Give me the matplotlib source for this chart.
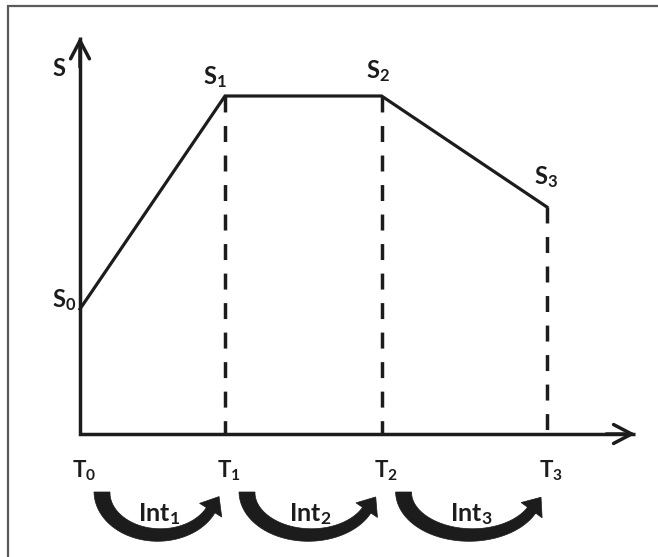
import numpy as np
import matplotlib
matplotlib.use('Agg')
import matplotlib.pyplot as plt
from matplotlib import transforms as mtransforms
from matplotlib.patches import Polygon, Rectangle

# chart values
t_vals = [0.0, 1.0, 2.08, 3.22]
s_vals = [1.25, 3.38, 3.38, 2.27]
t_labels = [r'$\mathrm{T_0}$', r'$\mathrm{T_1}$', r'$\mathrm{T_2}$', r'$\mathrm{T_3}$']
s_labels = [r'$\mathrm{S_0}$', r'$\mathrm{S_1}$', r'$\mathrm{S_2}$', r'$\mathrm{S_3}$']
int_labels = [r'$\mathrm{Int_1}$', r'$\mathrm{Int_2}$', r'$\mathrm{Int_3}$']

# label offsets in pixels
s_offsets = [(-16, 9), (-10, 19), (-4, 25), (-1, 30)]
t_offset = (4, -37)

INK = '#1c1c1c'

plt.rcParams['font.family'] = ['Lato', 'DejaVu Sans']
plt.rcParams['font.weight'] = 'bold'
plt.rcParams['mathtext.fontset'] = 'custom'
plt.rcParams['mathtext.rm'] = 'Lato:bold'
plt.rcParams['mathtext.it'] = 'Lato:bold'
plt.rcParams['mathtext.bf'] = 'Lato:bold'

fig = plt.figure(figsize=(6.58, 5.57), dpi=100)
ax = fig.add_axes([0, 0, 1, 1])
ax.set_xlim(-0.5517, 3.9862)
ax.set_ylim(-1.23, 4.34)
ax.axis('off')

# outer frame
fig.patches.append(Rectangle((8 / 658, -0.05), 1.0, 1 - 6 / 557 + 0.05,
                             transform=fig.transFigure, fill=False,
                             lw=1.6, ec='#5a5a5a'))

# axes as an L shape with open arrow heads
x_end, y_end = 3.83, 3.97
ax.plot([0, 0, x_end], [y_end, 0, 0], color=INK, lw=2.5,
        solid_joinstyle='miter', solid_capstyle='butt')
for tip, tail in [((x_end, 0), (x_end - 0.2, 0)), ((0, y_end), (0, y_end - 0.3))]:
    ax.annotate('', xy=tip, xytext=tail,
                arrowprops=dict(arrowstyle='->,head_length=1.3,head_width=0.68',
                                lw=2.5, color=INK, shrinkA=0, shrinkB=0,
                                mutation_scale=10))
ax.annotate('S', xy=(0, y_end), xytext=(-21, -31), textcoords='offset pixels',
            ha='center', va='center', fontsize=17, fontweight='bold', color=INK)

# main polyline and dashed drops
ax.plot(t_vals, s_vals, color=INK, lw=2.3, solid_joinstyle='miter')
for t, s in zip(t_vals[1:], s_vals[1:]):
    ax.plot([t, t], [s, 0], color=INK, lw=2.5, ls=(0, (4.6, 3.9)))

for t, s, lab, off in zip(t_vals, s_vals, s_labels, s_offsets):
    ax.annotate(lab, xy=(t, s), xytext=off, textcoords='offset pixels',
                ha='center', va='center', fontsize=17, color=INK)
for t, lab in zip(t_vals, t_labels):
    ax.annotate(lab, xy=(t, 0), xytext=t_offset, textcoords='offset pixels',
                ha='center', va='center', fontsize=16, color=INK)

# curved interval arrows, built in pixel space
ident = mtransforms.IdentityTransform()
top = ax.transData.transform((0, -0.58))[1]
depth = 43
for i, lab in enumerate(int_labels):
    left = ax.transData.transform((t_vals[i], 0))[0] + 22
    right = ax.transData.transform((t_vals[i + 1], 0))[0] - 9
    cx = (left + right) / 2
    a = (right - left) / 2
    tt = np.radians(np.linspace(180, 335, 80))
    px = cx + a * np.cos(tt)
    py = top + depth * np.sin(tt)
    tx = -a * np.sin(tt)
    ty = depth * np.cos(tt)
    nrm = np.hypot(tx, ty)
    tx, ty = tx / nrm, ty / nrm
    nx, ny = -ty, tx
    w = np.linspace(16, 10, len(tt)) / 2
    outer = np.column_stack([px - nx * w, py - ny * w])
    inner = np.column_stack([px + nx * w, py + ny * w])
    ex, ey = px[-1], py[-1]
    ux, uy = tx[-1], ty[-1]
    hw, hl = 13, 16
    head = np.array([[ex + nx[-1] * hw, ey + ny[-1] * hw],
                     [ex + ux * hl, ey + uy * hl],
                     [ex - nx[-1] * hw, ey - ny[-1] * hw]])
    verts = np.vstack([inner, head[::-1], outer[::-1]])
    ax.add_patch(Polygon(verts, closed=True, transform=ident,
                         fc=INK, ec=INK, lw=0.5))
    ax.text(cx, top - 22, lab, transform=ident, ha='center', va='center',
            fontsize=18, color=INK)

fig.savefig('out.png', dpi=100)
